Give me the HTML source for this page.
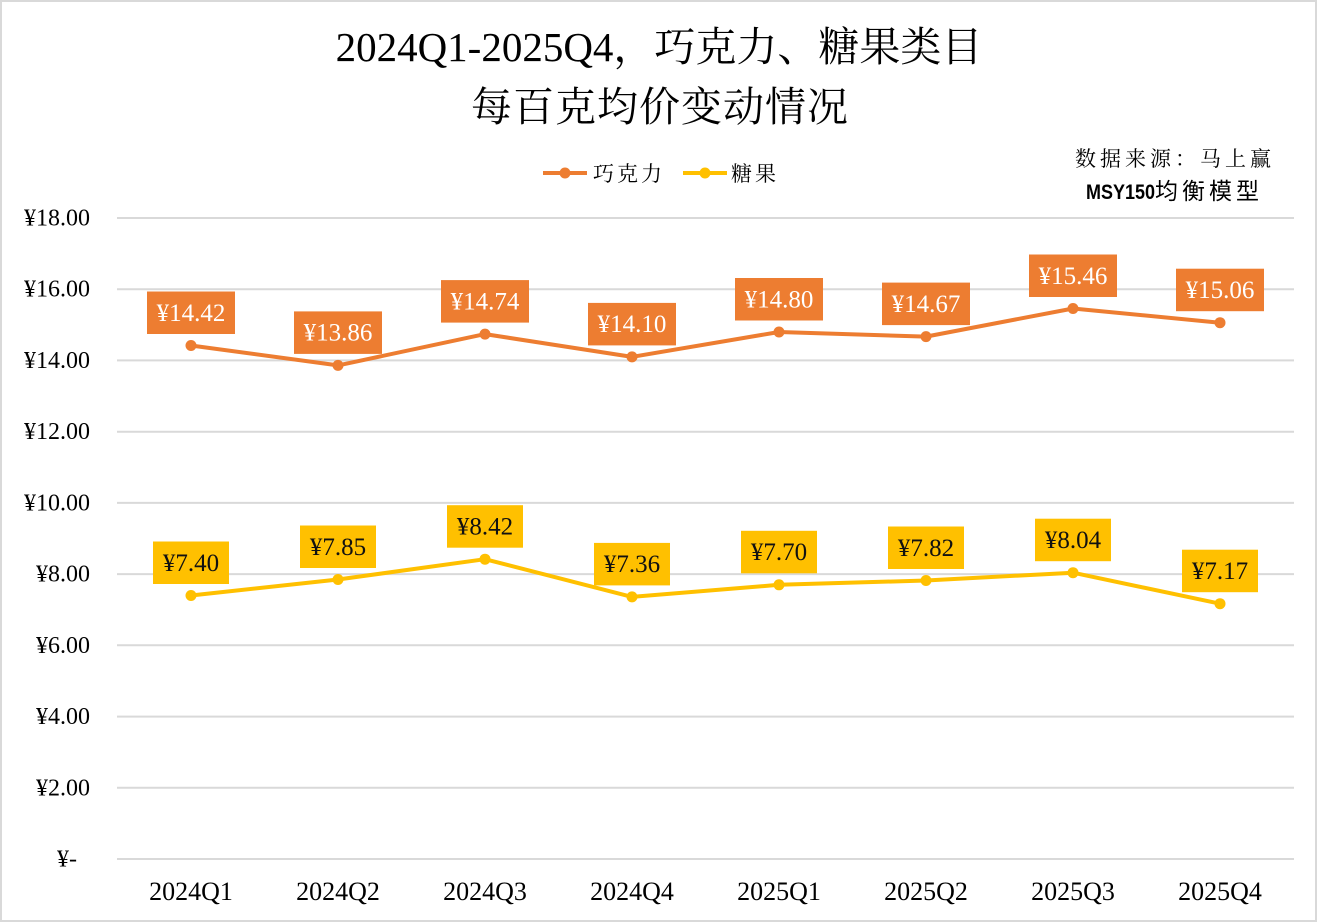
<!DOCTYPE html>
<html><head><meta charset="utf-8"><style>
html,body{margin:0;padding:0;background:#fff;}
svg{display:block;}
</style></head><body>
<svg width="1318" height="923" viewBox="0 0 1318 923" xmlns="http://www.w3.org/2000/svg">
<rect x="0" y="0" width="1318" height="923" fill="#fff"/>
<rect x="1" y="1" width="1315" height="920" fill="none" stroke="#d9d9d9" stroke-width="2"/>

<!-- Title -->
<text x="659" y="61" text-anchor="middle" font-size="41" fill="#000" font-family="'Liberation Serif','Noto Serif CJK SC',serif">2024Q1-2025Q4，巧克力、糖果类目</text>
<text x="660" y="121" text-anchor="middle" font-size="41" letter-spacing="1" fill="#000" font-family="'Noto Serif CJK SC','Liberation Serif',serif">每百克均价变动情况</text>

<!-- Legend -->
<line x1="543" y1="173" x2="587" y2="173" stroke="#ED7D31" stroke-width="4"/>
<circle cx="565" cy="173" r="5.5" fill="#ED7D31"/>
<text x="593" y="181" font-size="21" letter-spacing="3" fill="#000" font-family="'Noto Serif CJK SC',serif">巧克力</text>
<line x1="683" y1="173" x2="727" y2="173" stroke="#FFC000" stroke-width="4"/>
<circle cx="705" cy="173" r="5.5" fill="#FFC000"/>
<text x="731" y="181" font-size="21" letter-spacing="3" fill="#000" font-family="'Noto Serif CJK SC',serif">糖果</text>

<!-- Source -->
<text x="1075" y="166" font-size="21" letter-spacing="4" fill="#000" font-family="'Noto Serif CJK SC',serif">数据来源：马上赢</text>
<text x="1086" y="199" font-size="21" fill="#000" font-family="'Liberation Sans','Noto Sans CJK SC',sans-serif"><tspan font-weight="bold" textLength="69" lengthAdjust="spacingAndGlyphs">MSY150</tspan><tspan font-family="'Noto Sans CJK SC',sans-serif" font-size="23" letter-spacing="4">均衡模型</tspan></text>

<!-- Gridlines -->
<g stroke="#d9d9d9" stroke-width="2">
<line x1="117" y1="218" x2="1294" y2="218"/>
<line x1="117" y1="289.2" x2="1294" y2="289.2"/>
<line x1="117" y1="360.4" x2="1294" y2="360.4"/>
<line x1="117" y1="431.7" x2="1294" y2="431.7"/>
<line x1="117" y1="502.9" x2="1294" y2="502.9"/>
<line x1="117" y1="574.1" x2="1294" y2="574.1"/>
<line x1="117" y1="645.3" x2="1294" y2="645.3"/>
<line x1="117" y1="716.6" x2="1294" y2="716.6"/>
<line x1="117" y1="787.8" x2="1294" y2="787.8"/>
<line x1="117" y1="859" x2="1294" y2="859"/>
</g>

<!-- Y labels -->
<g font-size="24" fill="#000" text-anchor="end" font-family="'Liberation Serif',serif">
<text x="90" y="225.5">¥18.00</text>
<text x="90" y="296.7">¥16.00</text>
<text x="90" y="367.9">¥14.00</text>
<text x="90" y="439.2">¥12.00</text>
<text x="90" y="510.4">¥10.00</text>
<text x="90" y="581.6">¥8.00</text>
<text x="90" y="652.8">¥6.00</text>
<text x="90" y="724.1">¥4.00</text>
<text x="90" y="795.3">¥2.00</text>
<text x="77" y="866.5">¥-</text>
</g>

<!-- X labels -->
<g font-size="26" fill="#000" text-anchor="middle" font-family="'Liberation Serif',serif">
<text x="191" y="900">2024Q1</text>
<text x="338" y="900">2024Q2</text>
<text x="485" y="900">2024Q3</text>
<text x="632" y="900">2024Q4</text>
<text x="779" y="900">2025Q1</text>
<text x="926" y="900">2025Q2</text>
<text x="1073" y="900">2025Q3</text>
<text x="1220" y="900">2025Q4</text>
</g>

<!-- Series lines -->
<polyline fill="none" stroke="#ED7D31" stroke-width="4" stroke-linejoin="round" points="191,345.5 338,365.4 485,334.1 632,356.9 779,332.0 926,336.6 1073,308.5 1220,322.7"/>
<polyline fill="none" stroke="#FFC000" stroke-width="4" stroke-linejoin="round" points="191,595.5 338,579.5 485,559.2 632,596.9 779,584.8 926,580.5 1073,572.7 1220,603.7"/>

<g fill="#ED7D31">
<circle cx="191" cy="345.5" r="5.5"/><circle cx="338" cy="365.4" r="5.5"/><circle cx="485" cy="334.1" r="5.5"/><circle cx="632" cy="356.9" r="5.5"/>
<circle cx="779" cy="332.0" r="5.5"/><circle cx="926" cy="336.6" r="5.5"/><circle cx="1073" cy="308.5" r="5.5"/><circle cx="1220" cy="322.7" r="5.5"/>
</g>
<g fill="#FFC000">
<circle cx="191" cy="595.5" r="5.5"/><circle cx="338" cy="579.5" r="5.5"/><circle cx="485" cy="559.2" r="5.5"/><circle cx="632" cy="596.9" r="5.5"/>
<circle cx="779" cy="584.8" r="5.5"/><circle cx="926" cy="580.5" r="5.5"/><circle cx="1073" cy="572.7" r="5.5"/><circle cx="1220" cy="603.7" r="5.5"/>
</g>

<!-- Orange labels -->
<g fill="#ED7D31">
<rect x="147" y="291.5" width="88" height="42.5"/>
<rect x="294" y="311.4" width="88" height="42.5"/>
<rect x="441" y="280.1" width="88" height="42.5"/>
<rect x="588" y="302.9" width="88" height="42.5"/>
<rect x="735" y="278.0" width="88" height="42.5"/>
<rect x="882" y="282.6" width="88" height="42.5"/>
<rect x="1029" y="254.5" width="88" height="42.5"/>
<rect x="1176" y="268.7" width="88" height="42.5"/>
</g>
<g font-size="25" fill="#fff" text-anchor="middle" font-family="'Liberation Serif',serif">
<text x="191" y="320.8">¥14.42</text>
<text x="338" y="340.7">¥13.86</text>
<text x="485" y="309.4">¥14.74</text>
<text x="632" y="332.2">¥14.10</text>
<text x="779" y="307.3">¥14.80</text>
<text x="926" y="311.9">¥14.67</text>
<text x="1073" y="283.8">¥15.46</text>
<text x="1220" y="298.0">¥15.06</text>
</g>

<!-- Yellow labels -->
<g fill="#FFC000">
<rect x="153" y="541.5" width="76" height="42.5"/>
<rect x="300" y="525.5" width="76" height="42.5"/>
<rect x="447" y="505.2" width="76" height="42.5"/>
<rect x="594" y="542.9" width="76" height="42.5"/>
<rect x="741" y="530.8" width="76" height="42.5"/>
<rect x="888" y="526.5" width="76" height="42.5"/>
<rect x="1035" y="518.7" width="76" height="42.5"/>
<rect x="1182" y="549.7" width="76" height="42.5"/>
</g>
<g font-size="25" fill="#111" text-anchor="middle" font-family="'Liberation Serif',serif">
<text x="191" y="570.8">¥7.40</text>
<text x="338" y="554.8">¥7.85</text>
<text x="485" y="534.5">¥8.42</text>
<text x="632" y="572.2">¥7.36</text>
<text x="779" y="560.1">¥7.70</text>
<text x="926" y="555.8">¥7.82</text>
<text x="1073" y="548.0">¥8.04</text>
<text x="1220" y="579.0">¥7.17</text>
</g>
</svg>
</body></html>
